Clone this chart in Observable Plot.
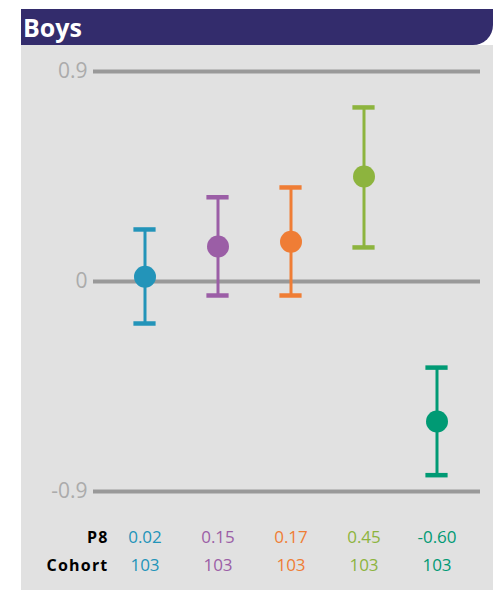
<!DOCTYPE html>
<html>
<head>
<meta charset="utf-8">
<script src="https://cdn.jsdelivr.net/npm/d3@7"></script>
<script src="https://cdn.jsdelivr.net/npm/@observablehq/plot@0.6"></script>
<style>
  html, body { margin: 0; padding: 0; background: #fff; }
  body { width: 502px; height: 590px; position: relative; font-family: "Open Sans", sans-serif; }
  #header { position: absolute; left: 21px; top: 9px; width: 472px; height: 36px; background: #332c6c;
    border-bottom-right-radius: 20px; color: #fff; font-weight: 700; font-size: 25px; line-height: 36px;
    box-sizing: border-box; padding-left: 2px; }
  #chart { position: absolute; left: 21px; top: 45px; width: 472px; height: 545px; background: #e1e1e1; }
  #chart svg { display: block; background: transparent; }
</style>
</head>
<body>
<div id="header">Boys</div>
<div id="chart"></div>
<script>
const groups = ["A", "B", "C", "D", "E"];
const p8 = [0.02, 0.15, 0.17, 0.45, -0.60];
const p8Labels = ["0.02", "0.15", "0.17", "0.45", "-0.60"];
const lower = [-0.18, -0.06, -0.06, 0.146, -0.83];
const upper = [0.223, 0.361, 0.403, 0.746, -0.369];
const cohort = [103, 103, 103, 103, 103];
const colors = ["#2394b9", "#9b5ea6", "#ef7d35", "#8db43e", "#009a74"];
const yTicks = [-0.9, 0, 0.9];
const yTickLabels = ["-0.9", "0", "0.9"];
const rowLabels = ["P8", "Cohort"];

const data = groups.map((g, i) => ({
  g, value: p8[i], label: p8Labels[i], lo: lower[i], hi: upper[i], n: cohort[i], color: colors[i]
}));

const capInset = 25.4;
const chart = Plot.plot({
  width: 472,
  height: 545,
  marginTop: 26,
  marginBottom: 99,
  marginLeft: 85,
  marginRight: 18,
  style: { fontFamily: "'Open Sans', sans-serif", background: "transparent" },
  x: { type: "band", domain: groups, padding: 0, axis: null },
  y: { domain: [-0.9, 0.9], axis: null },
  marks: [
    Plot.ruleY(yTicks, { stroke: "#999999", strokeWidth: 4, insetLeft: -13, insetRight: -5 }),
    Plot.text(yTicks, {
      y: d => d, frameAnchor: "left", dx: -19, textAnchor: "end",
      text: (d, i) => yTickLabels[i], fill: "#ababab", fontSize: 21, fontWeight: 400
    }),
    Plot.ruleX(data, { x: "g", y1: "lo", y2: "hi", stroke: "color", strokeWidth: 3 }),
    Plot.tickY(data, { x: "g", y: "lo", stroke: "color", strokeWidth: 4.5, insetLeft: capInset, insetRight: capInset }),
    Plot.tickY(data, { x: "g", y: "hi", stroke: "color", strokeWidth: 4.5, insetLeft: capInset, insetRight: capInset }),
    Plot.dot(data, { x: "g", y: "value", r: 11, fill: "color", stroke: null }),
    Plot.text(data, { x: "g", frameAnchor: "bottom", dy: 46, text: "label", fill: "color", fontSize: 17, lineAnchor: "middle" }),
    Plot.text(data, { x: "g", frameAnchor: "bottom", dy: 74, text: d => String(d.n), fill: "color", fontSize: 17, lineAnchor: "middle" }),
    Plot.text([rowLabels[0]], {
      frameAnchor: "bottom-left", dx: 2, dy: 46, textAnchor: "end",
      text: d => d, fill: "#000", fontSize: 16, fontWeight: 700, lineAnchor: "middle"
    }),
    Plot.text([rowLabels[1]], {
      frameAnchor: "bottom-left", dx: 2, dy: 74, textAnchor: "end",
      text: d => d, fill: "#000", fontSize: 16, fontWeight: 700, lineAnchor: "middle"
    })
  ]
});
d3.select(chart).selectAll("text")
  .filter(function () { return rowLabels.includes(this.textContent); })
  .attr("letter-spacing", "1.2px");
document.getElementById("chart").appendChild(chart);
</script>
</body>
</html>
